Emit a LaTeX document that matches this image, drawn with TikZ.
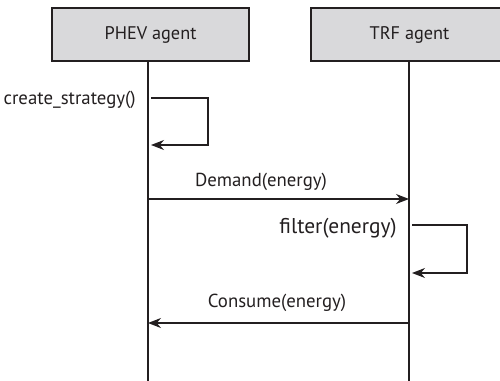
\documentclass[tikz,border=0pt]{standalone}
\usepackage{fontspec}
\setmainfont{PT Sans}
\usepackage{tikz}
\usetikzlibrary{positioning,arrows.meta,calc}
\definecolor{BoxFill}{RGB}{217,217,219}
\definecolor{LineDark}{RGB}{35,31,32}

\begin{document}
\begin{tikzpicture}[
    x=0.02cm, y=-0.02cm,
    agent/.style={rectangle, draw=LineDark, fill=BoxFill, line width=0.7pt,
        minimum width=3.94cm, minimum height=1.06cm, font=\fontsize{10.4}{12}\selectfont, text=LineDark},
    lifeline/.style={draw=LineDark, line width=0.7pt},
    msg/.style={-{Stealth[length=2.6mm, width=2mm]}, line width=0.7pt, LineDark},
    lbl/.style={font=\fontsize{10.7}{13}\selectfont, text=LineDark, inner sep=0pt},
]
\useasboundingbox (0,0) rectangle (500,381);
\begin{scope}
\clip (0,0) rectangle (500,381);
\node[agent] (phev) at (150.5,34.5) {PHEV agent};
\node[agent] (trf) at (409.5,34.5) {TRF agent};
\end{scope}
\coordinate (phevend) at (148,381);
\coordinate (trfend) at (409,381);
\draw[lifeline] (phev.south -| phevend) -- (phevend);
\draw[lifeline] (trf.south -| trfend) -- (trfend);

% self call on PHEV
\coordinate (s1) at (151,98);
\coordinate (s2) at (151,145);
\node[lbl, anchor=east] (cs) at (136,100) {create\_strategy()};
\draw[msg] (s1) -- ++(57,0) |- (s2);

% demand
\coordinate (d1) at (148,199);
\coordinate (d2) at (409,199);
\node[lbl] (dem) at (261,182) {Demand(energy)};
\draw[msg] (d1) -- (d2);

% self call on TRF
\coordinate (f1) at (412,225);
\coordinate (f2) at (412,273);
\node[lbl, anchor=east, font=\fontsize{12.2}{14}\selectfont] (flt) at (397,228) {filter(energy)};
\draw[msg] (f1) -- ++(55,0) |- (f2);

% consume
\coordinate (c1) at (409,323);
\coordinate (c2) at (148,323);
\node[lbl] (con) at (277,303) {Consume(energy)};
\draw[msg] (c1) -- (c2);
\end{tikzpicture}
\end{document}
